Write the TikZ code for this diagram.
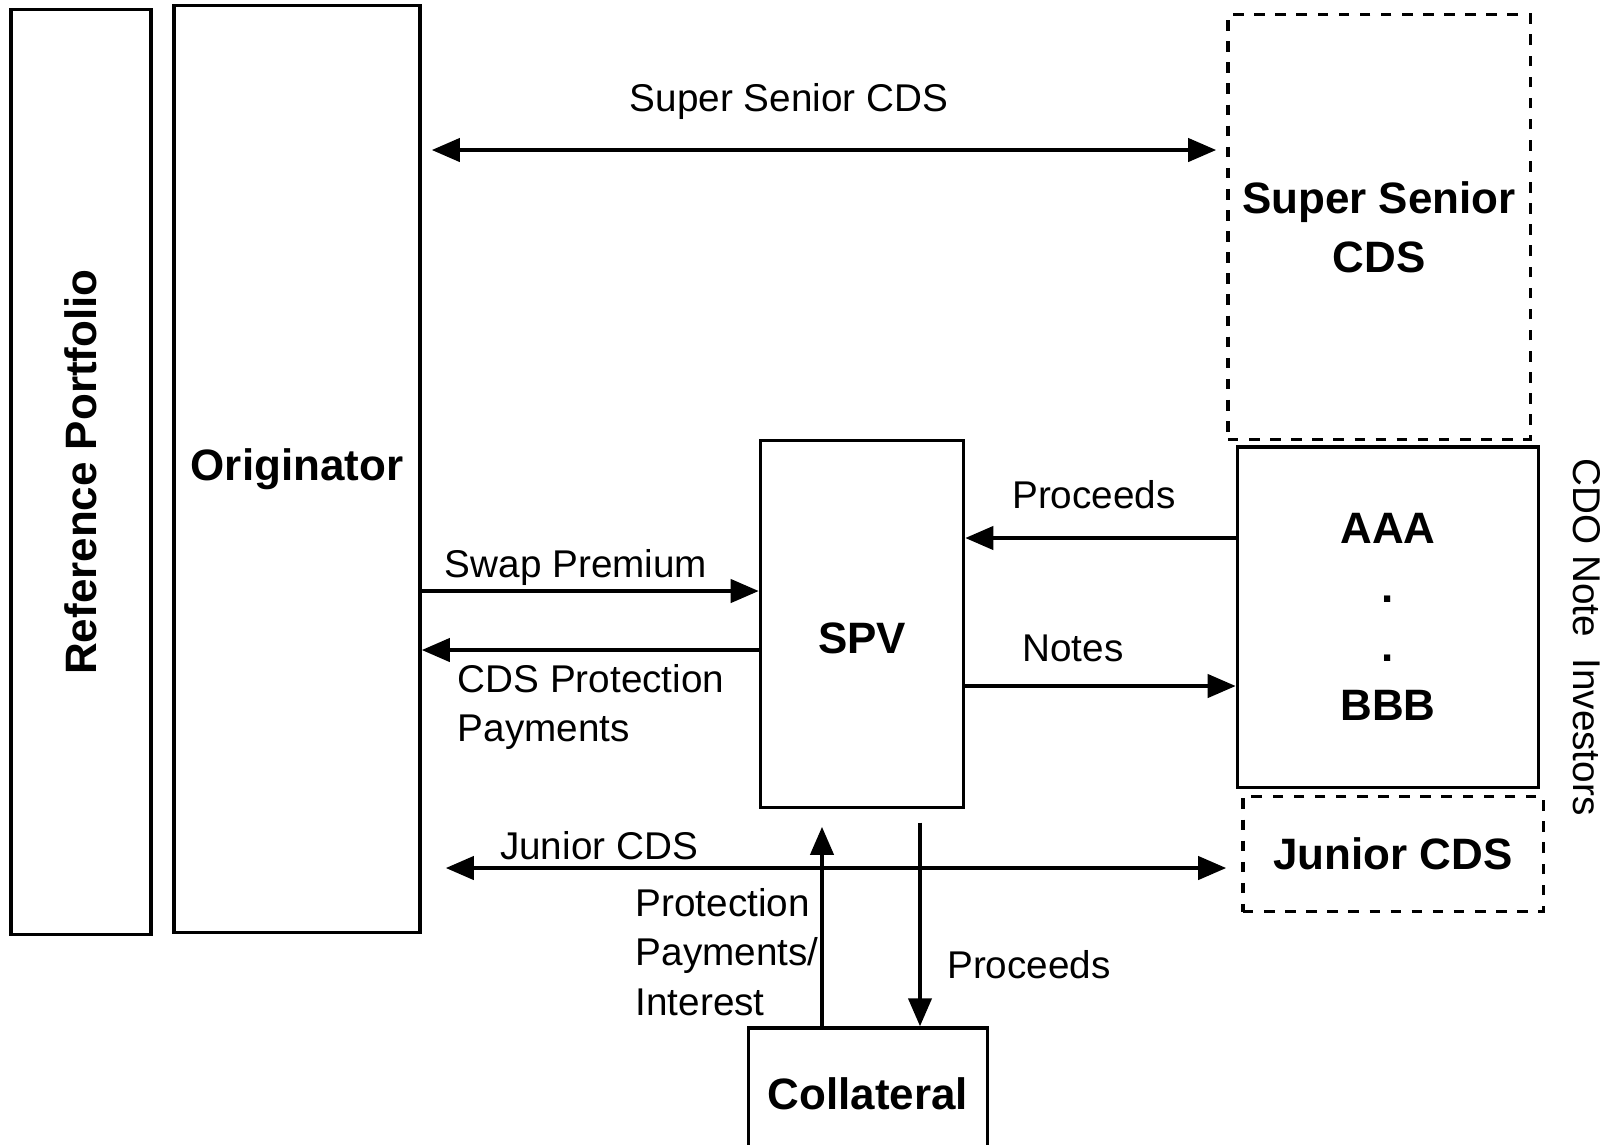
\documentclass[tikz,border=0pt]{standalone}
\usepackage{fontspec}
\setmainfont{Liberation Sans}
\usetikzlibrary{arrows.meta}

\begin{document}
\begin{tikzpicture}[x=0.01cm, y=-0.01cm, >={Triangle[length=8pt,width=6.5pt]}]

        \path[use as bounding box, clip] (0,0) rectangle (1618,1144);

        \begin{scope}[every node/.style={draw, line width=0.9pt, inner sep=0pt, align=center, font=\fontsize{12.5}{16.8}\selectfont\bfseries}]
          \node[minimum width=9.25cm, minimum height=1.40cm, rotate=90] (refport) at (81,472) {Reference Portfolio};
          \node[minimum width=2.46cm, minimum height=9.26cm] (orig)  at (297,469)  {Originator};
          \node[minimum width=2.03cm, minimum height=3.66cm, text height=0.6cm] (spv) at (862,624) {SPV};
          \node[minimum width=3.01cm, minimum height=3.40cm] (tranche) at (1388,617) {AAA\\.\\.\\BBB};
          \node[minimum width=2.39cm, minimum height=1.32cm] (coll)  at (868,1094) {Collateral};
          \node[dashed, minimum width=3.02cm, minimum height=4.24cm] (sscds) at (1379,227) {Super Senior\\CDS};
          \node[dashed, minimum width=3.00cm, minimum height=1.15cm] (jcds)  at (1393,854) {Junior CDS};
        \end{scope}

        \begin{scope}[every node/.style={inner sep=0pt, align=left, font=\fontsize{11}{14}\selectfont}]
          \node[rotate=-90] (cdoinv) at (1587,637) {CDO Note\ \ Investors};
          \node (sslbl)    at (789,101)  {Super Senior CDS};
          \node (procuplbl) at (1094,495) {Proceeds};
          \node (noteslbl) at (1073,648)  {Notes};
          \node (swaplbl)  at (576,567)   {Swap Premium};
          \node[anchor=west] (protlbl) at (457,707) {CDS Protection\\Payments};
          \node (jcdslbl)  at (599,846)   {Junior CDS};
          \node[anchor=west] (intlbl) at (635,952) {Protection\\Payments/\\Interest};
          \node (procdnlbl) at (1029,965) {Proceeds};
        \end{scope}

        \begin{scope}[every edge/.style={draw, line width=1.3pt}]
          \path (orig.east |- 0,150) edge[<->, shorten <=0.1cm, shorten >=0.1cm] (sscds.west |- 0,150);
          \path (tranche.west |- 0,538) edge[->] (spv.east |- 0,538);
          \path (spv.east |- 0,686) edge[->] (tranche.west |- 0,686);
          \path (orig.east |- 0,591) edge[->] (spv.west |- 0,591);
          \path (spv.west |- 0,650) edge[->] (orig.east |- 0,650);
          \path (orig.east |- 0,868) edge[<->, shorten <=0.24cm, shorten >=0.15cm] (jcds.west |- 0,868);
          \path (coll.north -| 822,0) edge[->, shorten >=0.18cm] (spv.south -| 822,0);
          \path (spv.south -| 920,0) edge[->, shorten <=0.14cm] (coll.north -| 920,0);
        \end{scope}

\end{tikzpicture}
\end{document}
